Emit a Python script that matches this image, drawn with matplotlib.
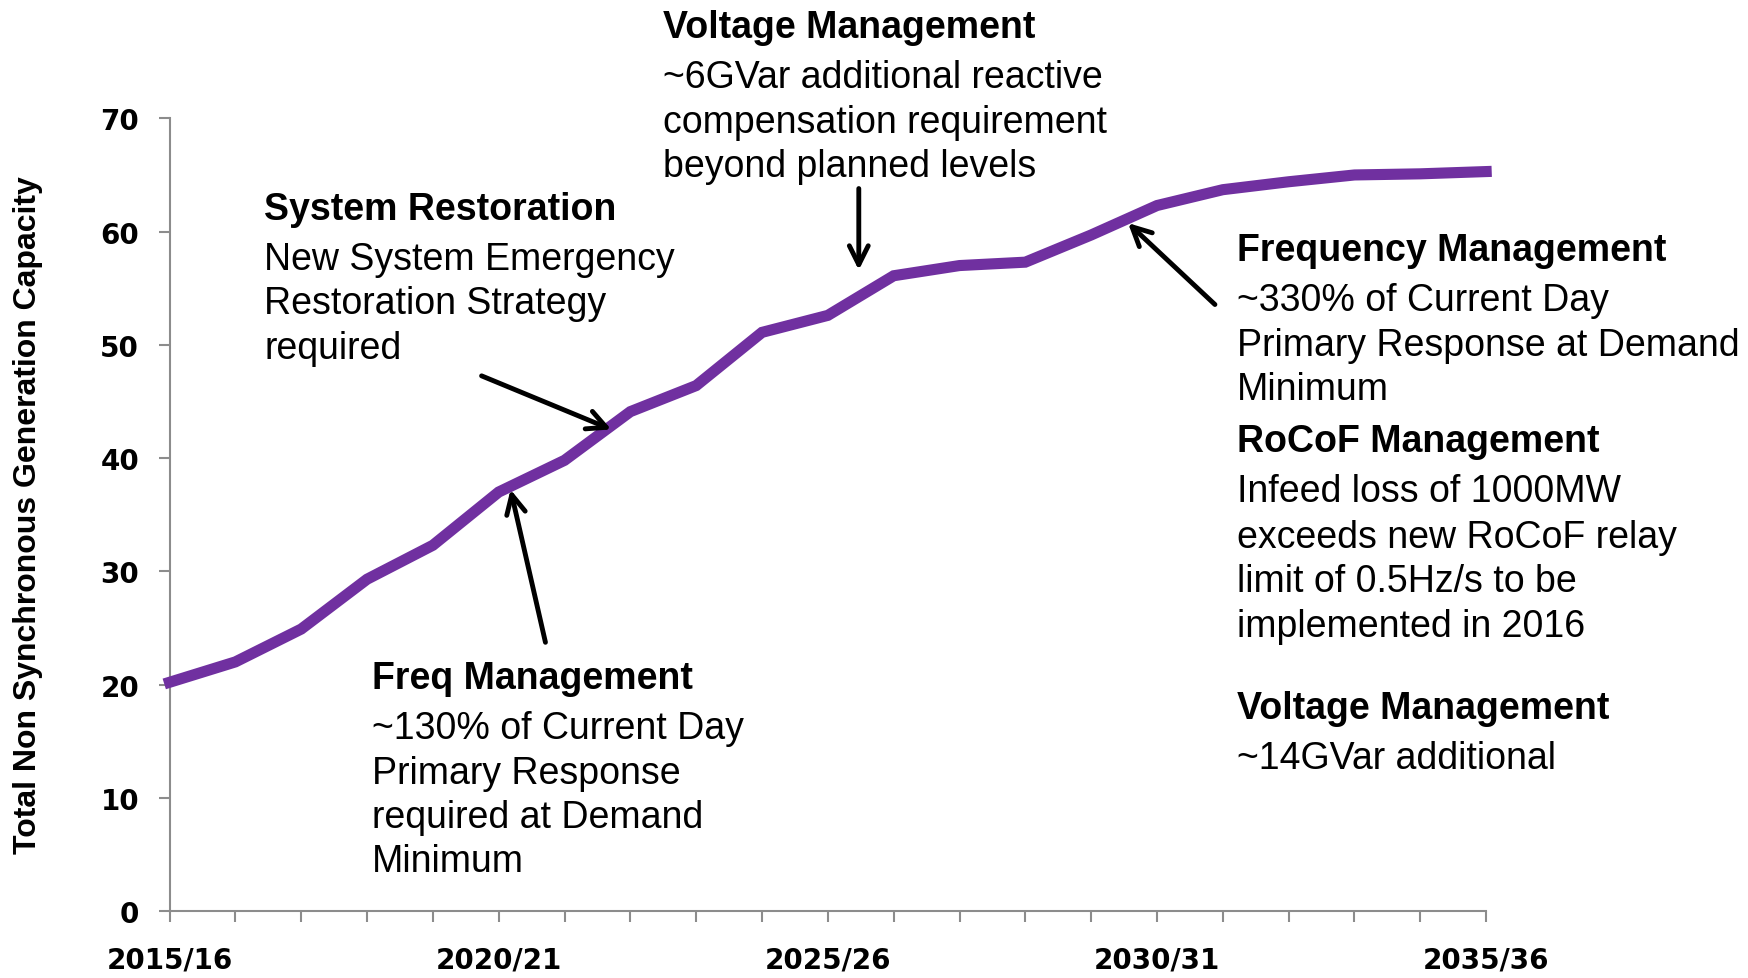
import matplotlib
matplotlib.use("Agg")
import matplotlib.pyplot as plt

# data
years = ["2015/16", "2016/17", "2017/18", "2018/19", "2019/20", "2020/21", "2021/22",
         "2022/23", "2023/24", "2024/25", "2025/26", "2026/27", "2027/28", "2028/29",
         "2029/30", "2030/31", "2031/32", "2032/33", "2033/34", "2034/35", "2035/36"]
capacity = [20.2, 22.0, 24.9, 29.3, 32.3, 37.0, 39.8, 44.1, 46.4, 51.1, 52.6,
            56.1, 57.0, 57.3, 59.7, 62.3, 63.7, 64.4, 65.0, 65.1, 65.3]
label_years = ["2015/16", "2020/21", "2025/26", "2030/31", "2035/36"]

purple = "#7030A0"
grey = "#8c8c8c"

fig = plt.figure(figsize=(17.48, 9.79), dpi=100)
ax = fig.add_axes([0.0970, 0.0684, 0.7532, 0.8097])

x = list(range(len(years)))
ax.plot(x, capacity, color=purple, lw=8, solid_joinstyle="miter", clip_on=False, zorder=3)

ax.set_xlim(0, len(years) - 1)
ax.set_ylim(0, 70)
ax.set_yticks(range(0, 71, 10))
ax.set_xticks(x)
ax.set_xticklabels([y if y in label_years else "" for y in years])

for s in ["top", "right"]:
    ax.spines[s].set_visible(False)
for s in ["left", "bottom"]:
    ax.spines[s].set_color(grey)
    ax.spines[s].set_linewidth(1.5)

ax.tick_params(axis="both", direction="out", length=8, width=1.5, color=grey)
ax.tick_params(axis="y", pad=14)
ax.tick_params(axis="x", pad=17)
for lab in ax.get_yticklabels() + ax.get_xticklabels():
    lab.set_fontfamily("DejaVu Sans")
    lab.set_fontweight("bold")
    lab.set_fontsize(20)

fig.text(0.016, 0.474, "Total Non Synchronous Generation Capacity", rotation=90,
         ha="center", va="center", fontsize=23, fontweight="bold",
         family=["Liberation Sans", "DejaVu Sans"])

# annotation text blocks: (x, baseline y, text, bold)
fs = 27
fam = ["Liberation Sans", "DejaVu Sans"]
blocks = [
    (7.50, [(77.19, "Voltage Management", True),
            (72.76, "~6GVar additional reactive", False),
            (68.82, "compensation requirement", False),
            (64.88, "beyond planned levels", False)]),
    (1.44, [(61.14, "System Restoration", True),
            (56.71, "New System Emergency", False),
            (52.77, "Restoration Strategy", False),
            (48.83, "required", False)]),
    (3.08, [(19.69, "Freq Management", True),
            (15.26, "~130% of Current Day", False),
            (11.32, "Primary Response", False),
            (7.38, "required at Demand", False),
            (3.54, "Minimum", False)]),
    (16.22, [(57.50, "Frequency Management", True),
             (53.07, "~330% of Current Day", False),
             (49.13, "Primary Response at Demand", False),
             (45.19, "Minimum", False),
             (40.66, "RoCoF Management", True),
             (36.23, "Infeed loss of 1000MW", False),
             (32.19, "exceeds new RoCoF relay", False),
             (28.26, "limit of 0.5Hz/s to be", False),
             (24.32, "implemented in 2016", False),
             (17.03, "Voltage Management", True),
             (12.60, "~14GVar additional", False)]),
]
for bx, lines in blocks:
    for by, txt, bold in lines:
        ax.text(bx, by, txt, ha="left", va="baseline", fontsize=fs, family=fam,
                fontweight="bold" if bold else "normal", clip_on=False, zorder=4)

# arrows: (tail, head)
arrows = [((10.47, 63.8), (10.47, 56.6)),
          ((4.74, 47.26), (6.71, 42.53)),
          ((5.71, 23.73), (5.18, 37.22)),
          ((15.88, 53.56), (14.56, 60.75))]
for tail, head in arrows:
    ax.annotate("", xy=head, xytext=tail, annotation_clip=False,
                arrowprops=dict(arrowstyle="->", lw=3.5, color="black",
                                mutation_scale=34, shrinkA=0, shrinkB=0))

fig.savefig("out.png", dpi=100)
